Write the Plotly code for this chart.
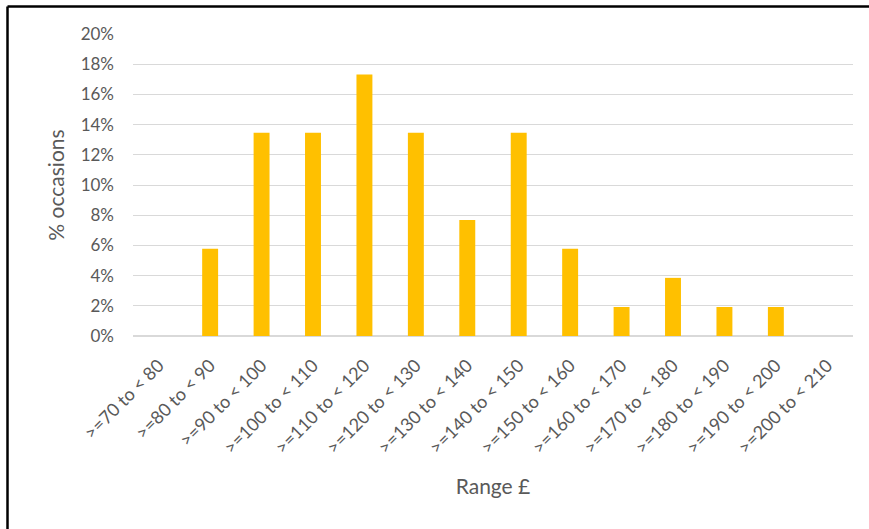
import plotly.graph_objects as go

categories = [">=70 to < 80", ">=80 to < 90", ">=90 to < 100", ">=100 to < 110",
              ">=110 to < 120", ">=120 to < 130", ">=130 to < 140", ">=140 to < 150",
              ">=150 to < 160", ">=160 to < 170", ">=170 to < 180", ">=180 to < 190",
              ">=190 to < 200", ">=200 to < 210"]
values = [0.0, 0.0577, 0.1346, 0.1346, 0.1731, 0.1346, 0.0769, 0.1346,
          0.0577, 0.0192, 0.0385, 0.0192, 0.0192, 0.0]
y_ticks = [0, 0.02, 0.04, 0.06, 0.08, 0.10, 0.12, 0.14, 0.16, 0.18, 0.20]

W, H = 869, 529
ML, MR, MT, MB = 133, 16, 34, 193
pw, ph = W - ML - MR, H - MT - MB

FONT = "Lato"
GREY = "#595959"

fig = go.Figure(go.Bar(x=categories, y=values, marker=dict(color="#FFC000", line=dict(width=0))))

fig.update_layout(
    width=W, height=H,
    margin=dict(l=ML, r=MR, t=MT, b=MB, pad=0),
    paper_bgcolor="white", plot_bgcolor="white",
    bargap=0.69, showlegend=False,
    font=dict(family=FONT, color=GREY, size=17),
)
fig.update_xaxes(
    tickangle=-45, tickfont=dict(size=18, color=GREY, family=FONT),
    ticklabelstandoff=11,
    showline=True, linecolor="#D9D9D9", linewidth=1, showgrid=False, ticks="",
    title=dict(text="Range £", font=dict(size=21, color=GREY, family=FONT), standoff=22),
)
fig.update_yaxes(
    range=[0, 0.20], tickvals=y_ticks, tickformat=".0%",
    tickfont=dict(size=17, color=GREY, family=FONT),
    ticklabelstandoff=18,
    showgrid=True, gridcolor="#D9D9D9", gridwidth=1, zeroline=True, zerolinecolor="#D9D9D9",
    showline=False, ticks="", ticklen=0,
    title=dict(text="% occasions", font=dict(size=21, color=GREY, family=FONT), standoff=10),
)

# outer frame (top and left edges)
x_left = (7.5 - ML) / pw
y_top = 1 + (MT - 6.5) / ph
x_right = (W - ML) / pw
y_bottom = -(MB) / ph
fig.add_shape(type="line", xref="paper", yref="paper", x0=x_left, x1=x_right, y0=y_top, y1=y_top,
              line=dict(color="black", width=2.5))
fig.add_shape(type="line", xref="paper", yref="paper", x0=x_left, x1=x_left, y0=y_top, y1=y_bottom,
              line=dict(color="black", width=2.5))

fig.write_html("out.html")
